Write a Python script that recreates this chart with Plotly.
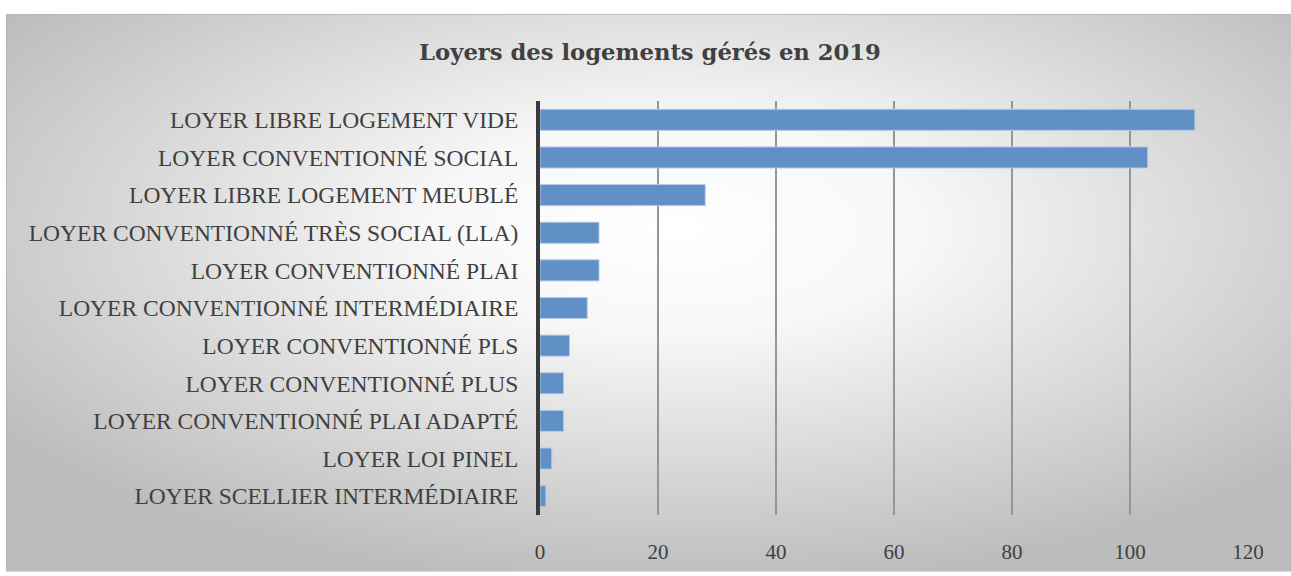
import base64
import plotly.graph_objects as go

# data, top to bottom as shown
categories = [
    "LOYER LIBRE LOGEMENT VIDE",
    "LOYER CONVENTIONNÉ SOCIAL",
    "LOYER LIBRE LOGEMENT MEUBLÉ",
    "LOYER CONVENTIONNÉ TRÈS SOCIAL (LLA)",
    "LOYER CONVENTIONNÉ PLAI",
    "LOYER CONVENTIONNÉ INTERMÉDIAIRE",
    "LOYER CONVENTIONNÉ PLS",
    "LOYER CONVENTIONNÉ PLUS",
    "LOYER CONVENTIONNÉ PLAI ADAPTÉ",
    "LOYER LOI PINEL",
    "LOYER SCELLIER INTERMÉDIAIRE",
]
values = [111, 103, 28, 10, 10, 8, 5, 4, 4, 2, 1]
x_ticks = [0, 20, 40, 60, 80, 100, 120]
title = "Loyers des logements gérés en 2019"

W, H = 1291, 576
L, R, T, B = 540, 43, 101, 57
pw, ph = W - L - R, H - T - B

# radial gradient background frame (x 6..1291, y 13..576)
fx0, fy0 = 6, 13
fw, fh = W - fx0, H - fy0
svg = (
    f"<svg xmlns='http://www.w3.org/2000/svg' width='{fw}' height='{fh}' "
    f"viewBox='0 0 {fw} {fh}' preserveAspectRatio='none'>"
    "<defs><radialGradient id='g' cx='0.52' cy='0.38' r='0.64'>"
    "<stop offset='0' stop-color='#ffffff'/>"
    "<stop offset='0.3' stop-color='#f7f7f7'/>"
    "<stop offset='1' stop-color='#bcbcbc'/>"
    "</radialGradient></defs>"
    f"<rect x='0.5' y='0.5' width='{fw + 4}' height='{fh + 4}' fill='url(#g)' "
    "stroke='#b4b4b4' stroke-width='1'/></svg>"
)
src = "data:image/svg+xml;base64," + base64.b64encode(svg.encode()).decode()

fig = go.Figure()
fig.add_trace(go.Bar(
    x=values, y=categories, orientation="h",
    marker=dict(color="#6190c7", line=dict(color="#b3cbe8", width=1)),
    width=0.56,
))

fig.add_layout_image(dict(
    source=src, xref="paper", yref="paper",
    x=(fx0 - L) / pw, y=1 + (T - fy0) / ph,
    sizex=fw / pw, sizey=fh / ph,
    xanchor="left", yanchor="top", sizing="stretch", layer="below",
))

fig.update_layout(
    width=W, height=H,
    margin=dict(l=L, r=R, t=T, b=B),
    paper_bgcolor="white", plot_bgcolor="rgba(0,0,0,0)",
    showlegend=False,
    title=dict(text="<b>" + title + "</b>", x=650 / W, xanchor="center",
               y=1 - 52 / H, yanchor="middle",
               font=dict(family="DejaVu Serif", size=22.7, color="#404040")),
    font=dict(family="Liberation Serif", color="#404040"),
)
fig.update_xaxes(
    range=[0, 120], tickvals=x_ticks, showgrid=True, gridcolor="#969696",
    gridwidth=1.5, zeroline=False, showline=False,
    tickfont=dict(size=21, color="#404040"), ticklabelstandoff=22,
    fixedrange=True,
)
fig.update_yaxes(
    autorange="reversed", showgrid=False, showline=True, linecolor="#3a3a3a",
    linewidth=4, tickfont=dict(size=23.5, color="#404040"), ticklabelstandoff=13,
    fixedrange=True,
)

fig.write_html("out.html", config={"displayModeBar": False},
               post_script="document.body.style.margin='0';")
